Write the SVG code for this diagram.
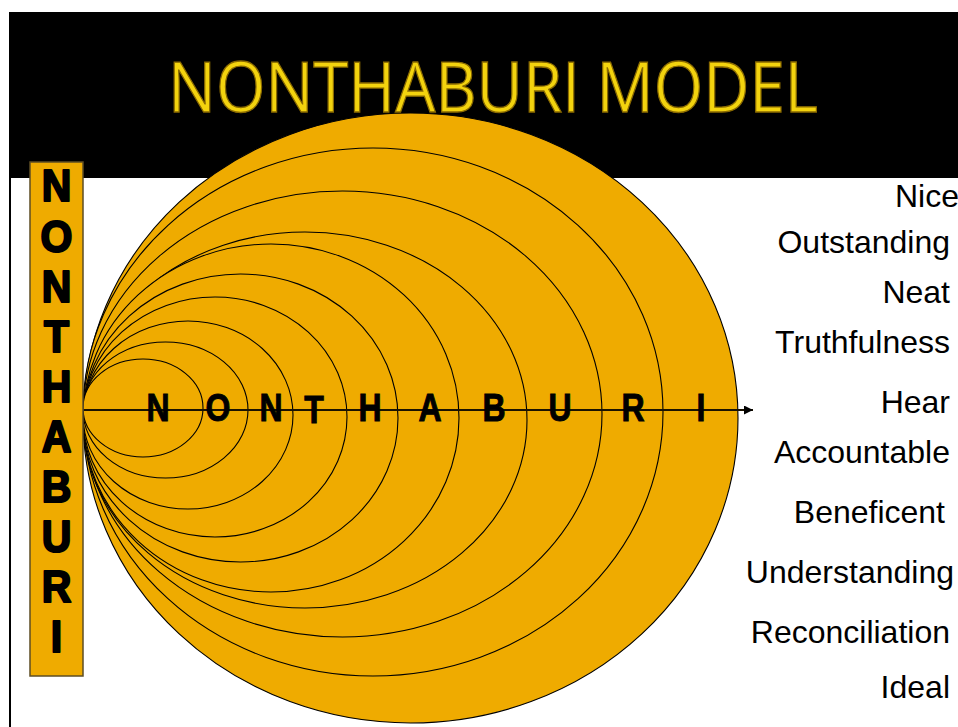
<svg xmlns="http://www.w3.org/2000/svg" width="958" height="727" viewBox="0 0 958 727">
  <style>
    .ell { fill: #EFAB00; stroke: #000; stroke-width: 1.1; }
    .bar { fill: #EFAB00; stroke: #5e4e25; stroke-width: 1.5; }
    .vl { font-family: "Liberation Sans", Arial, sans-serif; font-weight: bold; font-size: 41px; fill: #000; stroke: #000; stroke-width: 2; stroke-linejoin: round; text-anchor: middle; }
    .al { font-family: "Liberation Sans", Arial, sans-serif; font-weight: bold; font-size: 32px; fill: #000; stroke: #000; stroke-width: 0.8; text-anchor: middle; }
    .rt { font-family: "Liberation Sans", Arial, sans-serif; font-size: 32px; fill: #000; text-anchor: end; }
    .title { font-family: "Open Sans", "Liberation Sans", sans-serif; font-size: 69px; fill: #F3D30E; stroke: #8a6a00; stroke-width: 1.3; text-anchor: middle; }
  </style>
  <defs>
    <marker id="arr" viewBox="0 0 10 10" refX="10" refY="5" markerWidth="9" markerHeight="9" markerUnits="userSpaceOnUse" orient="auto">
      <path d="M0,0 L10,5 L0,10 z" fill="#000"/>
    </marker>
  </defs>
  <rect x="0" y="0" width="958" height="727" fill="#fff"/>
  <g id="header">
    <rect x="9" y="12" width="949" height="166" fill="#000"/>
    <rect x="9" y="178" width="2" height="549" fill="#000"/>
  </g>
  <g id="ellipses">
    <ellipse id="e10" class="ell" cx="410.5" cy="418" rx="327.5" ry="305"/>
    <ellipse id="e9" class="ell" cx="373" cy="412" rx="290" ry="264"/>
    <ellipse id="e8" class="ell" cx="342.5" cy="414" rx="259.5" ry="223"/>
    <ellipse id="e7" class="ell" cx="305" cy="420" rx="222" ry="188"/>
    <ellipse id="e6" class="ell" cx="271" cy="418" rx="188" ry="174"/>
    <ellipse id="e5" class="ell" cx="240.5" cy="418" rx="157.5" ry="144"/>
    <ellipse id="e4" class="ell" cx="215" cy="417" rx="132" ry="120"/>
    <ellipse id="e3" class="ell" cx="188" cy="415" rx="105" ry="94"/>
    <ellipse id="e2" class="ell" cx="165.5" cy="410" rx="82.5" ry="68"/>
    <ellipse id="e1" class="ell" cx="143" cy="408" rx="60" ry="49"/>
  </g>
  <g id="title">
    <text class="title" x="493" y="112" textLength="650" lengthAdjust="spacingAndGlyphs">NONTHABURI MODEL</text>
  </g>
  <g id="connectors">
    <line x1="83" y1="410" x2="753" y2="410" stroke="#1a1200" stroke-width="2" marker-end="url(#arr)"/>
  </g>
  <g id="axis-letters" transform="translate(0,421) scale(1,1.2)">
    <text class="al" x="158" y="0">N</text>
    <text class="al" x="218" y="0">O</text>
    <text class="al" x="271" y="0">N</text>
    <text class="al" x="314" y="2">T</text>
    <text class="al" x="370" y="0">H</text>
    <text class="al" x="430" y="0">A</text>
    <text class="al" x="494" y="0">B</text>
    <text class="al" x="560" y="0">U</text>
    <text class="al" x="633" y="0">R</text>
    <text class="al" x="701" y="0">I</text>
  </g>
  <g id="left-bar">
    <rect class="bar" x="30" y="162" width="53" height="514"/>
    <text class="vl" transform="translate(56.5,201) scale(1,1.1)">N</text>
    <text class="vl" transform="translate(56.5,252) scale(1,1.1)">O</text>
    <text class="vl" transform="translate(56.5,302) scale(1,1.1)">N</text>
    <text class="vl" transform="translate(56.5,352) scale(1,1.1)">T</text>
    <text class="vl" transform="translate(56.5,402) scale(1,1.1)">H</text>
    <text class="vl" transform="translate(56.5,452) scale(1,1.1)">A</text>
    <text class="vl" transform="translate(56.5,502) scale(1,1.1)">B</text>
    <text class="vl" transform="translate(56.5,552) scale(1,1.1)">U</text>
    <text class="vl" transform="translate(56.5,602) scale(1,1.1)">R</text>
    <text class="vl" transform="translate(56.5,652) scale(1,1.1)">I</text>
  </g>
  <g id="right-words">
    <text class="rt" x="959" y="207">Nice</text>
    <text class="rt" x="950" y="253">Outstanding</text>
    <text class="rt" x="950" y="303">Neat</text>
    <text class="rt" x="950" y="353">Truthfulness</text>
    <text class="rt" x="950" y="413">Hear</text>
    <text class="rt" x="950" y="463">Accountable</text>
    <text class="rt" x="945" y="523">Beneficent</text>
    <text class="rt" x="954" y="583">Understanding</text>
    <text class="rt" x="950" y="643">Reconciliation</text>
    <text class="rt" x="950" y="698">Ideal</text>
  </g>
</svg>
